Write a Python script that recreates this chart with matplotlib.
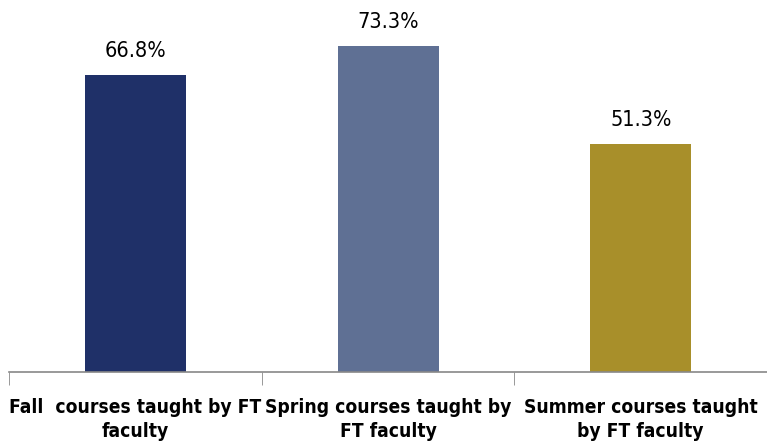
import numpy as np
import matplotlib.pyplot as plt

categories = ["Fall  courses taught by FT\nfaculty",
              "Spring courses taught by\nFT faculty",
              "Summer courses taught\nby FT faculty"]
values = [66.8, 73.3, 51.3]
colors = ["#1F3068", "#5F7094", "#A88F2A"]

plt.rcParams['font.family'] = ['DejaVu Sans']

fig = plt.figure(figsize=(7.67, 4.45), dpi=100)
ax = fig.add_axes([0.012, 0.164, 0.988, 0.8])

x = np.arange(len(values))
bars = ax.bar(x, values, width=0.4, color=colors)
for b, v in zip(bars, values):
    ax.text(b.get_x() + b.get_width() / 2, v + 3.0, f"{v:.1f}%",
            ha="center", va="bottom", fontsize=15.5, fontstretch="condensed")

ax.set_xlim(-0.5, 2.5)
ax.set_ylim(0, 80)
ax.set_yticks([])
ax.set_xticks(x)
ax.set_xticklabels(categories, fontsize=13.8, fontweight="bold",
                   fontstretch="condensed", linespacing=1.3)
ax.tick_params(axis="x", length=0, pad=19)
ax.set_xticks([-0.5, 0.5, 1.5], minor=True)
ax.tick_params(axis="x", which="minor", length=9, color="#888888")
for s in ["top", "right", "left"]:
    ax.spines[s].set_visible(False)
ax.spines["bottom"].set_color("#888888")
ax.spines["bottom"].set_linewidth(1.2)

fig.savefig("out.png", dpi=100)
